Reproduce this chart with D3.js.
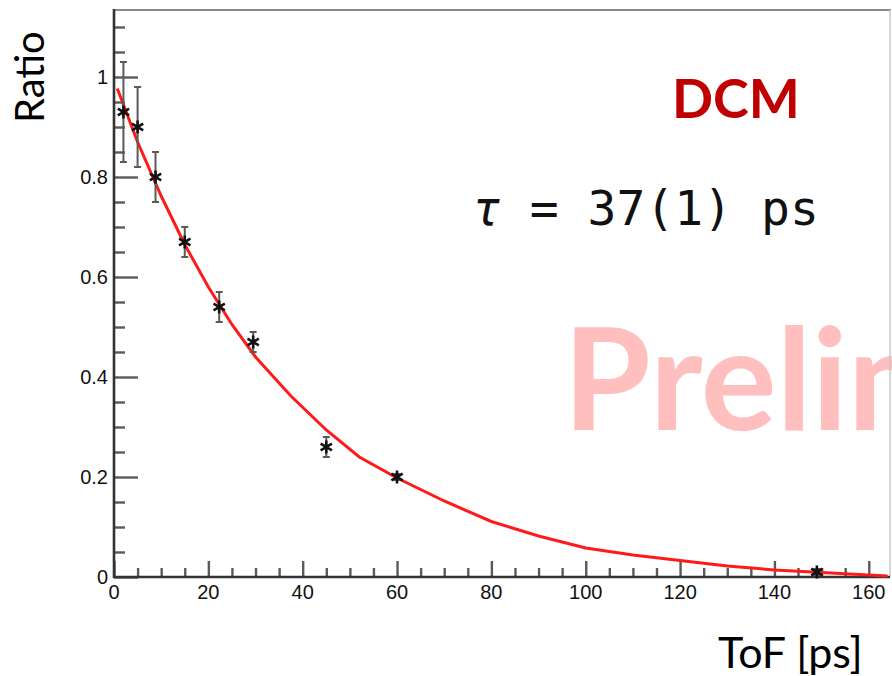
<!DOCTYPE html>
<html>
<head>
<meta charset="utf-8">
<script src="https://cdn.jsdelivr.net/npm/d3@7"></script>
<style>
  html, body { margin: 0; padding: 0; background: #fff; }
  svg { display: block; }
</style>
</head>
<body>
<svg id="chart" width="892" height="676"></svg>
<script>
// Measured survival ratio versus time of flight
const tofValues   = [2, 5, 8.8, 15, 22.3, 29.5, 45, 60, 149];
const ratioValues = [0.93, 0.90, 0.80, 0.67, 0.54, 0.47, 0.26, 0.20, 0.01];
const ratioErrors = [0.10, 0.08, 0.05, 0.03, 0.03, 0.02, 0.02, 0.006, 0.006];

// Exponential fit curve (tau = 37 ps), sampled along ToF
const fitTof   = [0.7, 5, 10, 15, 20, 25, 30, 37.5, 45, 52, 60, 70, 80, 90, 100, 110, 120, 130, 140, 150, 160, 164];
const fitRatio = [0.977, 0.87, 0.762, 0.665, 0.58, 0.505, 0.44, 0.362, 0.294, 0.24, 0.198, 0.152, 0.111, 0.082, 0.058, 0.044, 0.033, 0.022, 0.014, 0.009, 0.004, 0.002];

// Axis ticks
const xMajorTicks = [0, 20, 40, 60, 80, 100, 120, 140, 160];
const yMajorTicks = [0, 0.2, 0.4, 0.6, 0.8, 1];
const yTickLabels = ["0", "0.2", "0.4", "0.6", "0.8", "1"];

const svg = d3.select("#chart");

const x = d3.scaleLinear().domain([0, 164.5]).range([114, 890]);
const y = d3.scaleLinear().domain([0, 1.134]).range([577, 10]);

const xMinor = d3.range(0, 165, 5).filter(v => !xMajorTicks.includes(v));
const yMinor = d3.range(0, 23).map(i => +(i * 0.05).toFixed(2)).filter(v => !yMajorTicks.includes(v));

// Watermark, clipped at the right edge of the drawing
svg.append("defs").append("clipPath").attr("id", "pageClip")
  .append("rect").attr("x", 0).attr("y", 0).attr("width", 892).attr("height", 676);
svg.append("g").attr("clip-path", "url(#pageClip)")
  .append("text")
  .attr("x", 563).attr("y", 430)
  .attr("font-family", "Lato, 'Open Sans', sans-serif")
  .attr("font-weight", 700)
  .attr("font-size", 142)
  .attr("fill", "#ffbfbf")
  .text("Preliminary");

// Frame: top and right edges
svg.append("line")
  .attr("x1", x(0)).attr("x2", 891).attr("y1", y(1.134)).attr("y2", y(1.134))
  .attr("stroke", "#8a8a8a").attr("stroke-width", 2.2);
svg.append("line")
  .attr("x1", 890).attr("x2", 890).attr("y1", y(1.134)).attr("y2", y(0))
  .attr("stroke", "#c8c8c8").attr("stroke-width", 1.5);

// Y axis
const yAxisMajor = d3.axisRight(y).tickValues(yMajorTicks).tickSize(24).tickFormat("");
const yAxisMinor = d3.axisRight(y).tickValues(yMinor).tickSize(11).tickFormat("");
[yAxisMinor, yAxisMajor].forEach(ax => {
  const g = svg.append("g").attr("transform", `translate(${x(0)},0)`).call(ax);
  g.select(".domain").remove();
  g.selectAll(".tick line").attr("stroke", "#5a5a5a").attr("stroke-width", 2.4);
});
svg.append("g")
  .selectAll("text")
  .data(yMajorTicks)
  .join("text")
  .attr("x", 108)
  .attr("y", d => y(d))
  .attr("dy", "0.36em")
  .attr("text-anchor", "end")
  .attr("font-family", "'Liberation Sans', Arial, sans-serif")
  .attr("font-size", 20)
  .attr("fill", "#111")
  .text((d, i) => yTickLabels[i]);

// X axis
const xAxisMajor = d3.axisTop(x).tickValues(xMajorTicks).tickSize(16).tickFormat("");
const xAxisMinor = d3.axisTop(x).tickValues(xMinor).tickSize(9).tickFormat("");
[xAxisMinor, xAxisMajor].forEach(ax => {
  const g = svg.append("g").attr("transform", `translate(0,${y(0)})`).call(ax);
  g.select(".domain").remove();
  g.selectAll(".tick line").attr("stroke", "#5a5a5a").attr("stroke-width", 2.4);
});
svg.append("g")
  .selectAll("text")
  .data(xMajorTicks)
  .join("text")
  .attr("x", d => x(d))
  .attr("y", 599)
  .attr("text-anchor", "middle")
  .attr("font-family", "'Liberation Sans', Arial, sans-serif")
  .attr("font-size", 20)
  .attr("fill", "#111")
  .text(d => d);

// Axis lines
svg.append("line")
  .attr("x1", x(0)).attr("x2", x(0)).attr("y1", y(1.134) - 1).attr("y2", y(0) + 1)
  .attr("stroke", "#333").attr("stroke-width", 2.6);
svg.append("line")
  .attr("x1", x(0) - 1).attr("x2", 890).attr("y1", y(0)).attr("y2", y(0))
  .attr("stroke", "#333").attr("stroke-width", 2.6);

// Fit curve
const line = d3.line().x((d, i) => x(fitTof[i])).y(d => y(d));
svg.append("path")
  .datum(fitRatio)
  .attr("d", line)
  .attr("fill", "none")
  .attr("stroke", "#ff1a1a")
  .attr("stroke-width", 3);

// Error bars
const points = tofValues.map((t, i) => ({ t, r: ratioValues[i], e: ratioErrors[i] }));
const eb = svg.append("g").attr("stroke", "#5a5a5a").attr("stroke-width", 2);
eb.selectAll("line.v").data(points).join("line")
  .attr("class", "v")
  .attr("x1", d => x(d.t)).attr("x2", d => x(d.t))
  .attr("y1", d => y(d.r + d.e)).attr("y2", d => y(d.r - d.e));
eb.selectAll("line.top").data(points).join("line")
  .attr("class", "top")
  .attr("x1", d => x(d.t) - 3.5).attr("x2", d => x(d.t) + 3.5)
  .attr("y1", d => y(d.r + d.e)).attr("y2", d => y(d.r + d.e));
eb.selectAll("line.bot").data(points).join("line")
  .attr("class", "bot")
  .attr("x1", d => x(d.t) - 3.5).attr("x2", d => x(d.t) + 3.5)
  .attr("y1", d => y(d.r - d.e)).attr("y2", d => y(d.r - d.e));

// Star markers
const star = d3.symbol().type(d3.symbolAsterisk).size(120);
svg.append("g").selectAll("path").data(points).join("path")
  .attr("transform", d => `translate(${x(d.t)},${y(d.r)})`)
  .attr("d", star)
  .attr("fill", "none")
  .attr("stroke", "#111")
  .attr("stroke-width", 2.6);

// Axis titles
svg.append("text")
  .attr("transform", "translate(44,123) rotate(-90)")
  .attr("font-family", "Lato, 'Open Sans', sans-serif")
  .attr("font-size", 40)
  .attr("fill", "#000")
  .text("Ratio");
svg.append("text")
  .attr("x", 718).attr("y", 668)
  .attr("font-family", "Lato, 'Open Sans', sans-serif")
  .attr("font-size", 43)
  .attr("fill", "#000")
  .text("ToF [ps]");

// Annotations
svg.append("text")
  .attr("x", 672).attr("y", 118)
  .attr("font-family", "Lato, 'Open Sans', sans-serif")
  .attr("font-weight", 700)
  .attr("font-size", 54)
  .attr("fill", "#c00000")
  .text("DCM");

const tau = svg.append("text")
  .attr("x", 472).attr("y", 225)
  .attr("font-family", "'DejaVu Sans Mono', monospace")
  .attr("font-size", 48)
  .attr("fill", "#111")
  .attr("xml:space", "preserve")
  .style("white-space", "pre");
tau.append("tspan").attr("font-style", "italic").text("τ");
tau.append("tspan").text(" = 37(1) ps");
</script>
</body>
</html>
